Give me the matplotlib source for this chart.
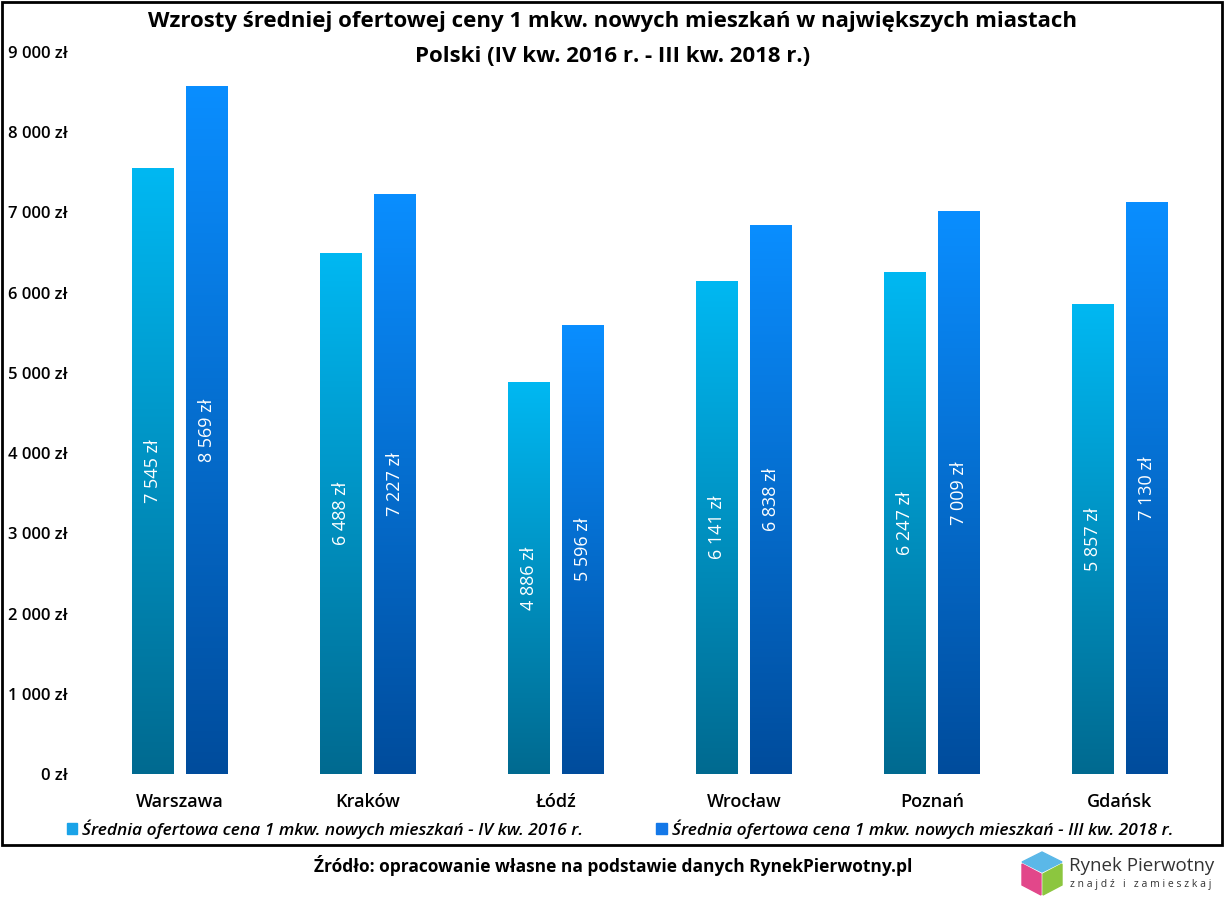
import matplotlib.pyplot as plt
import numpy as np
from matplotlib.colors import LinearSegmentedColormap
from matplotlib.patches import Rectangle, Polygon

plt.rcParams['font.family'] = ['Open Sans', 'DejaVu Sans']

# dane
miasta = ['Warszawa', 'Kraków', 'Łódź', 'Wrocław', 'Poznań', 'Gdańsk']
ceny_2016 = [7545, 6488, 4886, 6141, 6247, 5857]
ceny_2018 = [8569, 7227, 5596, 6838, 7009, 7130]
seria_2016 = 'Średnia ofertowa cena 1 mkw. nowych mieszkań - IV kw. 2016 r.'
seria_2018 = 'Średnia ofertowa cena 1 mkw. nowych mieszkań - III kw. 2018 r.'
y_ticks = [0, 1000, 2000, 3000, 4000, 5000, 6000, 7000, 8000, 9000]


def fmt_zl(v):
    return f'{v:,}'.replace(',', ' ') + ' zł'


fig = plt.figure(figsize=(12.26, 8.99), dpi=100)
ax = fig.add_axes([86 / 1226, 1 - 774 / 899, 1128 / 1226, (774 - 52) / 899])

# gradienty (dół -> góra)
cm1 = LinearSegmentedColormap.from_list('s1', ['#006A90', '#00B8F2'])
cm2 = LinearSegmentedColormap.from_list('s2', ['#004C9C', '#0A8EFF'])
grad = np.linspace(0, 1, 256).reshape(-1, 1)

szer = 0.222
odst = 0.064
x = np.arange(len(miasta))
for seria, cm, przes in [(ceny_2016, cm1, -(szer + odst) / 2),
                         (ceny_2018, cm2, (szer + odst) / 2)]:
    bars = ax.bar(x + przes, seria, width=szer, color='none', edgecolor='none')
    for b, v in zip(bars, seria):
        x0 = b.get_x()
        ax.imshow(grad, extent=[x0, x0 + szer, 0, v], origin='lower',
                  aspect='auto', cmap=cm, zorder=2)
        ax.text(x0 + szer / 2, v / 2, fmt_zl(v), rotation=90, ha='center',
                va='center', color='white', fontsize=13, zorder=3)

ax.set_xlim(-0.5, len(miasta) - 0.5)
ax.set_ylim(0, 9000)
ax.set_xticks(x)
ax.set_xticklabels(miasta, fontsize=13, fontweight='semibold')
ax.set_yticks(y_ticks)
ax.set_yticklabels([fmt_zl(v) for v in y_ticks], fontsize=12, fontweight='semibold')
ax.tick_params(length=0, axis='y', pad=13)
ax.tick_params(length=0, axis='x', pad=14)
for s in ax.spines.values():
    s.set_visible(False)

# tytuł
fig.text(0.5, 1 - 22 / 899, 'Wzrosty średniej ofertowej ceny 1 mkw. nowych mieszkań w największych miastach',
         ha='center', va='center', fontsize=16, fontweight='bold')
fig.text(0.5, 1 - 57 / 899, 'Polski (IV kw. 2016 r. - III kw. 2018 r.)',
         ha='center', va='center', fontsize=16, fontweight='bold')

# legenda
h1 = Rectangle((0, 0), 1, 1, color='#1AA3E8')
h2 = Rectangle((0, 0), 1, 1, color='#1478E8')
leg = fig.legend([h1, h2], [seria_2016, seria_2018], loc='center',
                 bbox_to_anchor=(0.5 + 7 / 1226, 1 - 829 / 899), ncol=2, frameon=False,
                 prop={'size': 12.5, 'style': 'italic', 'weight': 'semibold'},
                 handlelength=0.6, handleheight=0.6, handletextpad=0.3,
                 columnspacing=4.2)

# ramka
fig.add_artist(Rectangle((2 / 1226, 1 - 845 / 899), 1220 / 1226, 843 / 899,
                         transform=fig.transFigure, fill=False,
                         edgecolor='black', linewidth=2))

# źródło
fig.text(613 / 1226, 1 - 866 / 899,
         'Źródło: opracowanie własne na podstawie danych RynekPierwotny.pl',
         ha='center', va='center', fontsize=12.5, fontweight='bold')

# logo
def px(xp, yp):
    return (xp / 1226, 1 - yp / 899)

top = Polygon([px(1022, 862), px(1042, 852), px(1062, 862), px(1042, 872)],
              closed=True, transform=fig.transFigure, color='#5BB8E8')
lewa = Polygon([px(1022, 864), px(1041, 874), px(1041, 895), px(1022, 885)],
               closed=True, transform=fig.transFigure, color='#E2478A')
prawa = Polygon([px(1043, 874), px(1062, 864), px(1062, 885), px(1043, 895)],
                closed=True, transform=fig.transFigure, color='#8CC63F')
for p in (top, lewa, prawa):
    fig.add_artist(p)
fig.text(px(1069, 0)[0], 1 - 866 / 899, 'Rynek Pierwotny', ha='left', va='center',
         fontsize=13.5, color='#333333')
fig.text(px(1070, 0)[0], 1 - 885 / 899, 'z n a j d ź   i   z a m i e s z k a j',
         ha='left', va='center', fontsize=7.5, color='#333333')

fig.savefig('out.png', dpi=100, facecolor='white')
